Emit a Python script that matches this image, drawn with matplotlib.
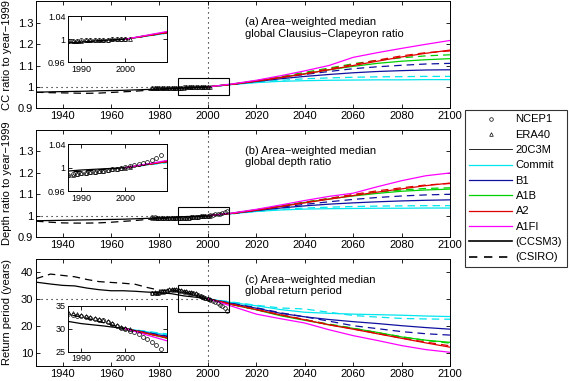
import numpy as np
import matplotlib.pyplot as plt
from matplotlib.lines import Line2D
from matplotlib.patches import Rectangle

plt.rcParams['font.family'] = ['Liberation Sans', 'DejaVu Sans']
plt.rcParams['font.size'] = 8

# ------------------------- DATA ------------------------------------------- #
years_hist = [1929, 1935, 1940, 1945, 1950, 1955, 1960, 1965, 1970, 1975, 1980, 1985, 1990, 1995, 2000]
years_fut = [2000, 2010, 2020, 2030, 2040, 2050, 2060, 2070, 2080, 2090, 2100]
years_ncep = list(range(1977, 2009))
years_era = list(range(1977, 2002))
scenarios = ["Commit", "B1", "A1B", "A2", "A1FI"]
scen_colors = ["#00e5ee", "#1010a0", "#00d000", "#e00000", "#ff00ff"]

# (a) Clausius-Clapeyron ratio
cc_ccsm3_hist = [0.975, 0.977, 0.978, 0.979, 0.980, 0.982, 0.983, 0.984, 0.986, 0.988, 0.990, 0.993, 0.995, 0.998, 1.000]
cc_csiro_hist = [0.975, 0.973, 0.972, 0.971, 0.970, 0.971, 0.974, 0.977, 0.980, 0.984, 0.988, 0.991, 0.994, 0.997, 1.000]
cc_ccsm3_fut = {
    "Commit": [1.0, 1.011, 1.020, 1.026, 1.029, 1.031, 1.032, 1.033, 1.033, 1.034, 1.034],
    "B1":     [1.0, 1.012, 1.025, 1.038, 1.049, 1.058, 1.066, 1.072, 1.076, 1.079, 1.080],
    "A1B":    [1.0, 1.013, 1.028, 1.045, 1.062, 1.080, 1.096, 1.110, 1.120, 1.127, 1.132],
    "A2":     [1.0, 1.012, 1.027, 1.043, 1.060, 1.080, 1.100, 1.120, 1.140, 1.157, 1.172],
    "A1FI":   [1.0, 1.014, 1.031, 1.052, 1.075, 1.100, 1.138, 1.160, 1.180, 1.199, 1.217],
}
cc_csiro_fut = {
    "Commit": [1.0, 1.011, 1.022, 1.031, 1.038, 1.042, 1.045, 1.047, 1.048, 1.049, 1.049],
    "B1":     [1.0, 1.012, 1.027, 1.043, 1.058, 1.072, 1.085, 1.094, 1.101, 1.107, 1.110],
    "A1B":    [1.0, 1.013, 1.029, 1.048, 1.068, 1.088, 1.108, 1.124, 1.136, 1.145, 1.150],
    "A2":     [1.0, 1.012, 1.028, 1.045, 1.063, 1.084, 1.105, 1.125, 1.145, 1.160, 1.168],
}
cc_ncep = [0.994, 0.994, 0.995, 0.994, 0.995, 0.995, 0.995, 0.996, 0.996, 0.996, 0.997, 0.997,
           0.997, 0.998, 0.998, 0.998, 0.998, 0.999, 0.999, 0.999, 1.000, 1.000, 1.001, 1.001]
cc_era = [0.993, 0.993, 0.994, 0.994, 0.994, 0.995, 0.995, 0.995, 0.996, 0.996, 0.996, 0.997,
          0.997, 0.997, 0.998, 0.998, 0.998, 0.999, 0.999, 0.999, 1.000, 1.000, 1.000, 1.001, 1.001]

# (b) depth ratio
dr_ccsm3_hist = [0.977, 0.978, 0.979, 0.980, 0.981, 0.982, 0.983, 0.984, 0.986, 0.988, 0.990, 0.993, 0.996, 0.998, 1.000]
dr_csiro_hist = [0.975, 0.970, 0.967, 0.966, 0.966, 0.967, 0.970, 0.974, 0.978, 0.983, 0.987, 0.991, 0.994, 0.997, 1.000]
dr_ccsm3_fut = {
    "Commit": [1.0, 1.010, 1.020, 1.027, 1.031, 1.033, 1.034, 1.035, 1.035, 1.036, 1.036],
    "B1":     [1.0, 1.011, 1.024, 1.036, 1.046, 1.054, 1.060, 1.065, 1.069, 1.072, 1.074],
    "A1B":    [1.0, 1.012, 1.028, 1.045, 1.062, 1.078, 1.092, 1.104, 1.114, 1.120, 1.124],
    "A2":     [1.0, 1.011, 1.026, 1.043, 1.060, 1.077, 1.094, 1.110, 1.125, 1.140, 1.152],
    "A1FI":   [1.0, 1.013, 1.030, 1.050, 1.071, 1.090, 1.105, 1.135, 1.163, 1.186, 1.199],
}
dr_csiro_fut = {
    "Commit": [1.0, 1.009, 1.020, 1.030, 1.036, 1.040, 1.043, 1.045, 1.046, 1.047, 1.047],
    "B1":     [1.0, 1.011, 1.025, 1.040, 1.053, 1.065, 1.076, 1.085, 1.092, 1.097, 1.100],
    "A1B":    [1.0, 1.012, 1.028, 1.046, 1.064, 1.081, 1.097, 1.110, 1.120, 1.127, 1.130],
    "A2":     [1.0, 1.011, 1.026, 1.044, 1.062, 1.080, 1.099, 1.116, 1.130, 1.143, 1.150],
}
dr_ncep = [0.993, 0.993, 0.992, 0.992, 0.992, 0.991, 0.991, 0.990, 0.990, 0.989, 0.988, 0.989,
           0.989, 0.990, 0.991, 0.992, 0.993, 0.994, 0.995, 0.996, 0.997, 0.998, 1.000, 1.001,
           1.002, 1.004, 1.006, 1.008, 1.010, 1.013, 1.016, 1.021]
dr_era = [0.992, 0.992, 0.992, 0.991, 0.991, 0.990, 0.990, 0.990, 0.989, 0.989, 0.988, 0.988,
          0.989, 0.990, 0.991, 0.992, 0.993, 0.994, 0.995, 0.996, 0.997, 0.998, 0.999, 1.000, 1.001]

# (c) return period (years)
rp_ccsm3_hist = [36.2, 35.5, 35.0, 34.8, 34.0, 33.4, 33.0, 33.0, 32.8, 32.5, 32.3, 31.9, 31.1, 30.6, 30.0]
rp_csiro_hist = [37.5, 39.2, 38.7, 38.2, 37.2, 36.4, 36.1, 35.8, 35.4, 34.2, 33.2, 33.3, 32.6, 31.3, 30.0]
rp_ccsm3_fut = {
    "Commit": [30, 28.6, 27.4, 26.0, 25.0, 24.6, 24.3, 24.1, 23.9, 23.6, 23.4],
    "B1":     [30, 28.2, 26.5, 24.6, 23.3, 22.3, 21.5, 20.8, 20.0, 19.3, 18.7],
    "A1B":    [30, 27.8, 25.9, 23.7, 22.0, 20.4, 19.0, 17.5, 15.8, 14.6, 13.8],
    "A2":     [30, 27.9, 26.0, 24.0, 22.2, 20.3, 18.7, 17.0, 15.3, 13.6, 12.0],
    "A1FI":   [30, 27.2, 24.3, 22.6, 21.0, 18.5, 16.3, 14.5, 12.6, 11.1, 10.1],
}
rp_csiro_fut = {
    "Commit": [30, 28.8, 27.6, 26.6, 26.2, 25.0, 23.8, 23.2, 22.7, 22.5, 22.4],
    "B1":     [30, 28.3, 26.7, 24.8, 23.3, 21.7, 20.0, 18.9, 17.8, 17.0, 16.5],
    "A1B":    [30, 27.9, 26.0, 23.9, 22.2, 20.6, 19.1, 17.4, 15.9, 14.5, 13.5],
    "A2":     [30, 27.9, 26.0, 24.1, 22.3, 20.4, 18.8, 17.1, 15.4, 13.9, 12.5],
}
rp_ncep = [32.0, 32.2, 32.0, 32.3, 32.5, 32.7, 33.0, 33.2, 33.3, 33.3, 33.3, 33.0, 32.8, 32.7,
           32.5, 32.3, 32.2, 32.0, 31.8, 31.4, 31.0, 30.6, 30.2, 30.0, 29.6, 29.3, 28.8, 28.3,
           27.8, 27.2, 26.5, 25.6]
rp_era = [32.2, 32.4, 32.3, 32.5, 32.8, 33.0, 33.3, 33.5, 33.6, 33.7, 33.6, 33.4, 33.1, 33.0,
          32.8, 32.6, 32.4, 32.2, 32.0, 31.6, 31.2, 30.8, 30.4, 30.2, 29.9]

PANELS = [
    dict(hist=(cc_ccsm3_hist, cc_csiro_hist), fut=(cc_ccsm3_fut, cc_csiro_fut), obs=(cc_ncep, cc_era),
         ylim=(0.9, 1.4), yticks=[0.9, 1, 1.1, 1.2, 1.3], ref=1.0, box=(0.963, 1.04), inset_ylim=(0.96, 1.04),
         ylabel="CC ratio to year\u22121999",
         text="(a) Area\u2212weighted median\nglobal Clausius\u2212Clapeyron ratio",
         inset_ticks=[0.96, 1, 1.04], inset_lab=["0.96", "1", "1.04"]),
    dict(hist=(dr_ccsm3_hist, dr_csiro_hist), fut=(dr_ccsm3_fut, dr_csiro_fut), obs=(dr_ncep, dr_era),
         ylim=(0.9, 1.4), yticks=[0.9, 1, 1.1, 1.2, 1.3], ref=1.0, box=(0.963, 1.04), inset_ylim=(0.96, 1.04),
         ylabel="Depth ratio to year\u22121999",
         text="(b) Area\u2212weighted median\nglobal depth ratio",
         inset_ticks=[0.96, 1, 1.04], inset_lab=["0.96", "1", "1.04"]),
    dict(hist=(rp_ccsm3_hist, rp_csiro_hist), fut=(rp_ccsm3_fut, rp_csiro_fut), obs=(rp_ncep, rp_era),
         ylim=(5, 45), yticks=[10, 20, 30, 40], ref=30, box=(25, 35), inset_ylim=(25, 35),
         ylabel="Return period (years)",
         text="(c) Area\u2212weighted median\nglobal return period",
         inset_ticks=[25, 30, 35], inset_lab=["25", "30", "35"]),
]

# ------------------------- HELPERS ----------------------------------------- #
W, H = 570, 381
LW = 0.9

def px_axes(fig, x0, y0, x1, y1):
    return fig.add_axes([x0 / W, 1 - y1 / H, (x1 - x0) / W, (y1 - y0) / H])

def draw_series(ax, p, ms):
    (h_cc, h_cs), (f_cc, f_cs), (ncep, era) = p["hist"], p["fut"], p["obs"]
    ax.plot(years_hist, h_cs, color="k", lw=LW, ls=(0, (6, 4)))
    ax.plot(years_hist, h_cc, color="k", lw=LW)
    for sc, col in zip(scenarios, scen_colors):
        if sc in f_cs:
            ax.plot(years_fut, f_cs[sc], color=col, lw=LW, ls=(0, (6, 4)))
        ax.plot(years_fut, f_cc[sc], color=col, lw=LW)
    ax.plot(years_era[:len(era)], era, ls="none", marker="^", ms=ms, mfc="none", mec="k", mew=0.5)
    ax.plot(years_ncep[:len(ncep)], ncep, ls="none", marker="o", ms=ms, mfc="none", mec="k", mew=0.5)

def style(ax, fs):
    ax.tick_params(direction="in", top=True, right=True, labelsize=fs, length=3, width=0.6, pad=2)
    for s in ax.spines.values():
        s.set_linewidth(0.7)

# ------------------------- FIGURE ------------------------------------------ #
fig = plt.figure(figsize=(W / 100, H / 100), dpi=100)

main_px = [(36, 1.3, 450, 108.3), (36, 129.7, 450, 237.3), (36, 258.5, 450, 366)]
inset_px = [(68.3, 16, 167.3, 62.3), (68.3, 144.3, 167.3, 191), (68.3, 305.7, 167.3, 351.7)]

for p, mp, ip in zip(PANELS, main_px, inset_px):
    ax = px_axes(fig, *mp)
    draw_series(ax, p, 2.6)
    ax.plot([1929, 2000], [p["ref"], p["ref"]], color="k", lw=0.8, ls=(0, (1, 3.5)))
    ax.axvline(2000, color="k", lw=0.8, ls=(0, (1, 3.5)))
    ax.add_patch(Rectangle((1987.5, p["box"][0]), 21.25, p["box"][1] - p["box"][0],
                           fill=False, ec="k", lw=0.8, zorder=5))
    ax.set_xlim(1929, 2100)
    ax.set_ylim(*p["ylim"])
    ax.set_xticks(range(1940, 2101, 20))
    ax.set_yticks(p["yticks"])
    ax.set_yticklabels([f"{v:g}" for v in p["yticks"]])
    ax.set_ylabel(p["ylabel"], fontsize=8)
    ax.yaxis.set_label_coords(-0.057, 0.5)
    ax.text(0.505, 0.85, p["text"], transform=ax.transAxes, va="top", ha="left", fontsize=8,
            linespacing=1.15)
    style(ax, 8)

    ins = px_axes(fig, *ip)
    draw_series(ins, p, 2.8)
    ins.set_xlim(1987, 2009.5)
    ins.set_ylim(*p["inset_ylim"])
    ins.set_xticks([1990, 2000])
    ins.set_yticks(p["inset_ticks"])
    ins.set_yticklabels(p["inset_lab"])
    style(ins, 6.5)

# legend
handles = [
    Line2D([], [], ls="none", marker="o", ms=2.6, mfc="none", mec="k", mew=0.5),
    Line2D([], [], ls="none", marker="^", ms=2.6, mfc="none", mec="k", mew=0.5),
    Line2D([], [], color="k", lw=0.6),
] + [Line2D([], [], color=c, lw=LW) for c in scen_colors] + [
    Line2D([], [], color="k", lw=1.2),
    Line2D([], [], color="k", lw=1.2, ls=(0, (5, 4))),
]
labels = ["NCEP1", "ERA40", "20C3M"] + scenarios + ["(CCSM3)", "(CSIRO)"]
leg = fig.legend(handles, labels, loc="upper left", bbox_to_anchor=(465 / W, 1 - 110 / H),
                 fontsize=8, frameon=True, fancybox=False, edgecolor="k", handlelength=3.8,
                 handletextpad=0.35, labelspacing=0.48, borderpad=0.4, borderaxespad=0)
leg.get_frame().set_linewidth(0.8)

fig.savefig("out.png", dpi=100)
